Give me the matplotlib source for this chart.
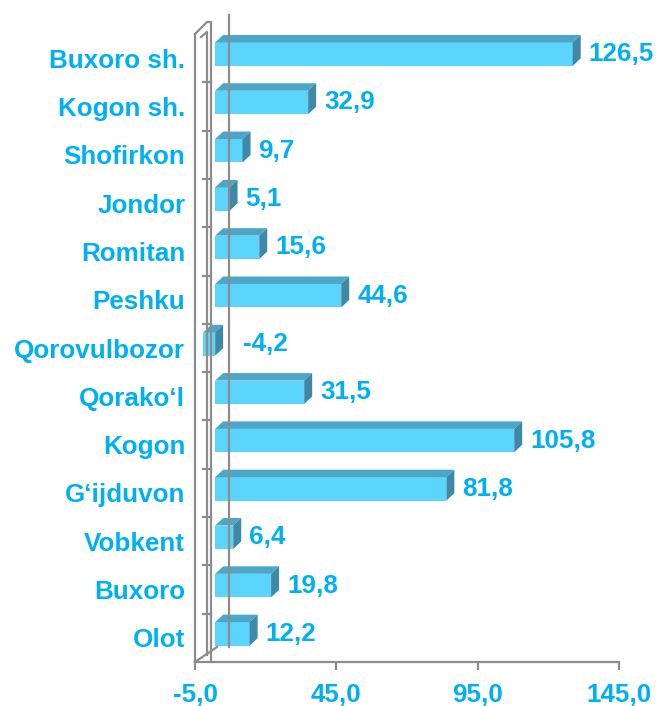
import matplotlib
matplotlib.use("Agg")
import matplotlib.pyplot as plt
from matplotlib.patches import Polygon
from matplotlib.lines import Line2D
import matplotlib.transforms as mtransforms

categories = ["Buxoro sh.", "Kogon sh.", "Shofirkon", "Jondor", "Romitan", "Peshku",
              "Qorovulbozor", "Qorako\u2018l", "Kogon", "G\u2018ijduvon", "Vobkent", "Buxoro", "Olot"]
values = [126.5, 32.9, 9.7, 5.1, 15.6, 44.6, -4.2, 31.5, 105.8, 81.8, 6.4, 19.8, 12.2]
xticks = [-5, 45, 95, 145]

TXT = "#00B0F0"
FRONT = "#5CD5FE"
TOP = "#4CA6C8"
SIDE = "#3F88A6"
GREY = "#8C8C8C"
FONT = "Liberation Sans"
FS = 18.7

W, H = 657, 706
fig = plt.figure(figsize=(W / 100, H / 100), dpi=100)
L, R, T, B = 195, 619, 34, 662
ax = fig.add_axes([L / W, 1 - B / H, (R - L) / W, (B - T) / H])
ax.set_xlim(-5, 145)
n = len(categories)
ax.set_ylim(n - 0.5, -0.5)

px_per_x = (R - L) / 150.0
px_per_y = (B - T) / n

front = ax.transData + mtransforms.ScaledTranslation(6 / 100, 4 / 100, fig.dpi_scale_trans)
h = 0.485
ddx = 8 / px_per_x
ddy = 7.5 / px_per_y

ypos = list(range(n))
bars = ax.barh(ypos, values, height=h, color=FRONT, edgecolor="none", zorder=3)
for b in bars:
    b.set_transform(front)

for i, v in enumerate(values):
    x0, x1 = min(0, v), max(0, v)
    yt, yb = i - h / 2, i + h / 2
    top = Polygon([(x0, yt), (x1, yt), (x1 + ddx, yt - ddy), (x0 + ddx, yt - ddy)],
                  closed=True, facecolor=TOP, edgecolor="none", transform=front, zorder=3)
    side = Polygon([(x1, yt), (x1 + ddx, yt - ddy), (x1 + ddx, yb - ddy), (x1, yb)],
                   closed=True, facecolor=SIDE, edgecolor="none", transform=front, zorder=3)
    ax.add_patch(top)
    ax.add_patch(side)
    lab_t = front + mtransforms.ScaledTranslation(16 / 100, 0, fig.dpi_scale_trans)
    ax.text(abs(v), i, f"{v:.1f}".replace(".", ","), transform=lab_t, ha="left", va="center",
            fontsize=FS, fontweight="bold", color=TXT, family=FONT, zorder=5)

for s in ["top", "right"]:
    ax.spines[s].set_visible(False)
for s in ["left", "bottom"]:
    ax.spines[s].set_color(GREY)
    ax.spines[s].set_linewidth(1.6)
ax.set_xticks(xticks)
ax.set_xticklabels([f"{t:.1f}".replace(".", ",") for t in xticks])
ax.set_yticks(ypos)
ax.set_yticklabels(categories)
ax.tick_params(axis="x", length=6, width=1.6, color=GREY, pad=9, labelsize=FS, labelcolor=TXT)
ax.tick_params(axis="y", length=0, pad=7, labelsize=FS, labelcolor=TXT)
for lab in ax.get_xticklabels() + ax.get_yticklabels():
    lab.set_fontweight("bold")
    lab.set_family(FONT)
ax.patch.set_visible(False)

def P(pts):
    xs = [p[0] / W for p in pts]
    ys = [1 - p[1] / H for p in pts]
    return xs, ys

deco = [
    [(195, 34), (207, 22), (211, 22), (211, 662)],
    [(201, 37), (207, 32), (207, 655)],
    [(195, 662), (217, 647)],
    [(229, 15), (229, 647)],
]
for pts in deco:
    xs, ys = P(pts)
    fig.add_artist(Line2D(xs, ys, transform=fig.transFigure, color=GREY, lw=1.6, zorder=1))

bt = mtransforms.blended_transform_factory(fig.transFigure, ax.transData)
for k in range(1, n):
    fig.add_artist(Line2D([203 / W, 211 / W], [k - 0.5, k - 0.5], transform=bt,
                          color=GREY, lw=1.6, zorder=1))

fig.savefig("out.png", dpi=100)
